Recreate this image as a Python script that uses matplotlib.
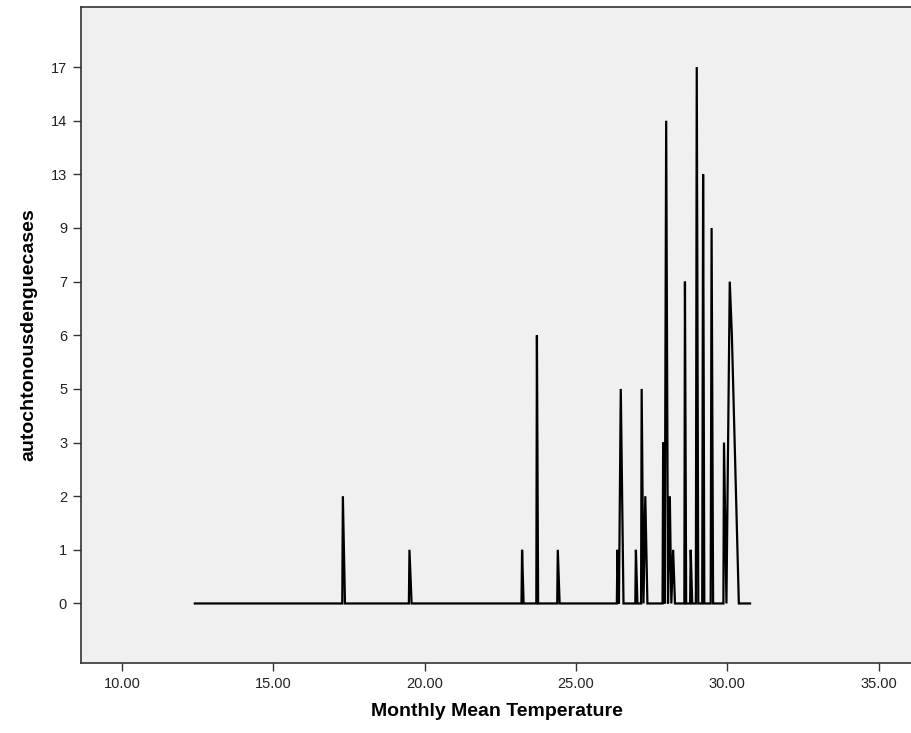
import matplotlib.pyplot as plt

plt.rcParams['font.family'] = ['Liberation Sans', 'DejaVu Sans']

# monthly mean temperature (sorted) and autochthonous dengue cases
temps = [12.41, 17.28, 17.30, 17.37, 19.48, 19.50, 19.57,
         23.20, 23.22, 23.27, 23.69, 23.71, 23.75, 24.38, 24.40, 24.46,
         26.35, 26.37, 26.42, 26.48, 26.57, 26.96, 26.98, 27.03,
         27.15, 27.17, 27.23, 27.29, 27.36, 27.86, 27.88, 27.93,
         27.98, 28.04, 28.10, 28.15, 28.21, 28.27, 28.58, 28.60, 28.64,
         28.77, 28.79, 28.84, 28.96, 28.99, 29.04, 29.17, 29.20, 29.24,
         29.45, 29.48, 29.53, 29.87, 29.89, 29.97, 30.08, 30.15, 30.38, 30.75]
cases = [0, 0, 2, 0, 0, 1, 0,
         0, 1, 0, 0, 6, 0, 0, 1, 0,
         0, 1, 0, 5, 0, 0, 1, 0,
         0, 5, 0, 2, 0, 0, 3, 0,
         14, 0, 2, 0, 1, 0, 0, 7, 0,
         0, 1, 0, 0, 17, 0, 0, 13, 0,
         0, 9, 0, 0, 3, 0, 7, 6, 0, 0]

# categorical y axis as in SPSS: only observed values, equally spaced
case_levels = [0, 1, 2, 3, 5, 6, 7, 9, 13, 14, 17]
xticks = [10, 15, 20, 25, 30, 35]

fig = plt.figure(figsize=(9.12, 7.33), dpi=100)
ax = fig.add_axes([81 / 912, 1 - 663 / 733, 1 - 81 / 912, (663 - 7) / 733])
ax.set_facecolor('#f0f0f0')

ypos = [case_levels.index(c) for c in cases]
ax.plot(temps, ypos, color='black', linewidth=1.6, solid_joinstyle='miter')

ax.set_xlim(8.65, 36.1)
ax.set_ylim(-1.11, 11.12)
ax.set_xticks(xticks)
ax.set_xticklabels([f'{t:.2f}' for t in xticks])
ax.set_yticks(range(len(case_levels)))
ax.set_yticklabels([str(c) for c in case_levels])

for side in ['left', 'bottom', 'top']:
    ax.spines[side].set_color('#333333')
    ax.spines[side].set_linewidth(1.2)
ax.spines['right'].set_visible(False)
ax.tick_params(direction='out', length=6, width=1, color='#333333',
               labelsize=10.5, labelcolor='#222222', pad=4)

ax.set_xlabel('Monthly Mean Temperature', fontsize=14, fontweight='bold',
              labelpad=9)
ax.set_ylabel('autochtonousdenguecases', fontsize=14, fontweight='bold',
              labelpad=10)

fig.savefig('out.png', dpi=100)
